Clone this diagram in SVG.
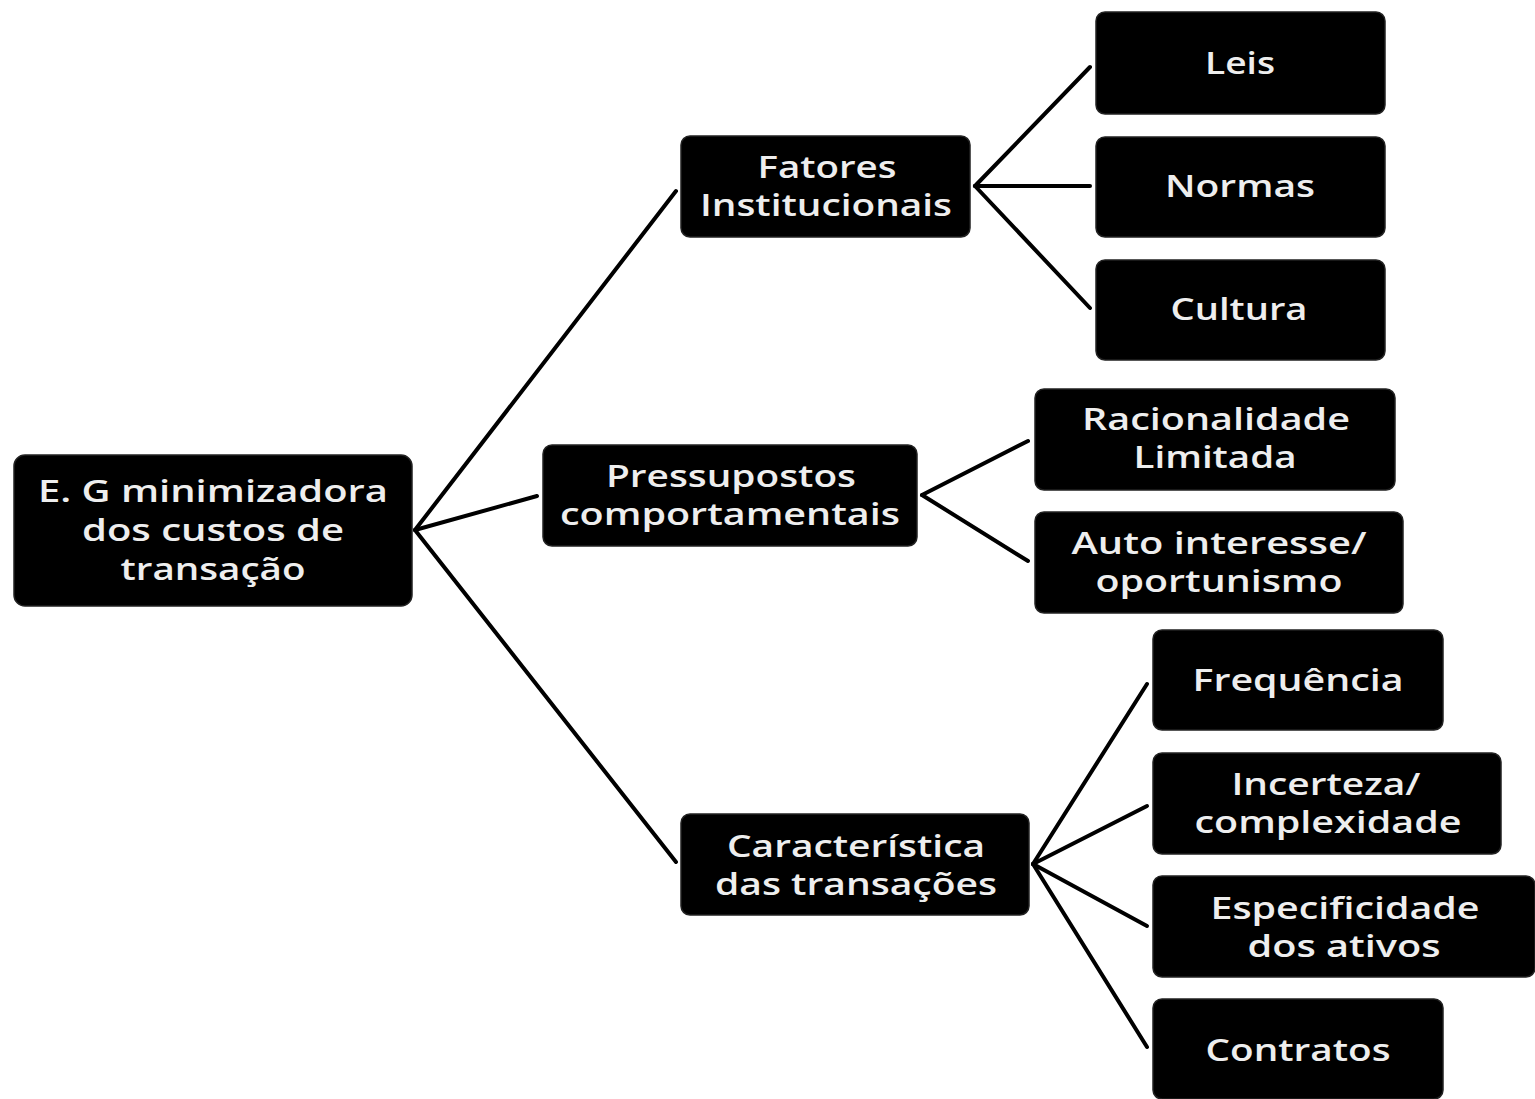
<svg xmlns="http://www.w3.org/2000/svg" width="1535" height="1099" viewBox="0 0 1535 1099">
<style>
.box{fill:#000;stroke:#222;stroke-width:1.5}
.t{font-family:"Open Sans","DejaVu Sans",sans-serif;font-size:30px;font-weight:600;fill:#eeeeee;text-anchor:middle}
.c line{stroke:#000;stroke-width:4;stroke-linecap:round}
</style>
<rect width="1535" height="1099" fill="#fff"/>
<g class="c" id="connectors">
<line x1="415" y1="530" x2="676" y2="191"/>
<line x1="415" y1="530" x2="537" y2="496"/>
<line x1="415" y1="530" x2="676" y2="862"/>
<line x1="975" y1="186" x2="1090" y2="67"/>
<line x1="975" y1="186" x2="1090" y2="186"/>
<line x1="975" y1="186" x2="1090" y2="308"/>
<line x1="922" y1="495" x2="1028" y2="441"/>
<line x1="922" y1="495" x2="1028" y2="561"/>
<line x1="1033" y1="864" x2="1147" y2="684"/>
<line x1="1033" y1="864" x2="1147" y2="806"/>
<line x1="1033" y1="864" x2="1147" y2="926"/>
<line x1="1033" y1="864" x2="1147" y2="1047"/>
</g>
<g id="root"><rect class="box" x="14" y="455" width="398" height="151" rx="11"/>
<text class="t" x="213" y="502" textLength="350" lengthAdjust="spacingAndGlyphs">E. G minimizadora</text>
<text class="t" x="213" y="541" textLength="262" lengthAdjust="spacingAndGlyphs">dos custos de</text>
<text class="t" x="213" y="580" textLength="185" lengthAdjust="spacingAndGlyphs">transação</text></g>
<g id="fatores"><rect class="box" x="681" y="136" width="289" height="101" rx="9"/>
<text class="t" x="827" y="178" textLength="139" lengthAdjust="spacingAndGlyphs">Fatores</text>
<text class="t" x="826" y="216" textLength="252" lengthAdjust="spacingAndGlyphs">Institucionais</text></g>
<g id="leis"><rect class="box" x="1096" y="12" width="289" height="102" rx="9"/>
<text class="t" x="1240" y="74" textLength="70" lengthAdjust="spacingAndGlyphs">Leis</text></g>
<g id="normas"><rect class="box" x="1096" y="137" width="289" height="100" rx="9"/>
<text class="t" x="1240" y="197" textLength="150" lengthAdjust="spacingAndGlyphs">Normas</text></g>
<g id="cultura"><rect class="box" x="1096" y="260" width="289" height="100" rx="9"/>
<text class="t" x="1239" y="320" textLength="137" lengthAdjust="spacingAndGlyphs">Cultura</text></g>
<g id="pressupostos"><rect class="box" x="543" y="445" width="374" height="101" rx="9"/>
<text class="t" x="731" y="487" textLength="250" lengthAdjust="spacingAndGlyphs">Pressupostos</text>
<text class="t" x="730" y="525" textLength="340" lengthAdjust="spacingAndGlyphs">comportamentais</text></g>
<g id="racionalidade"><rect class="box" x="1035" y="389" width="360" height="101" rx="9"/>
<text class="t" x="1216" y="430" textLength="268" lengthAdjust="spacingAndGlyphs">Racionalidade</text>
<text class="t" x="1215" y="468" textLength="163" lengthAdjust="spacingAndGlyphs">Limitada</text></g>
<g id="auto"><rect class="box" x="1035" y="512" width="368" height="101" rx="9"/>
<text class="t" x="1219" y="554" textLength="295" lengthAdjust="spacingAndGlyphs">Auto interesse/</text>
<text class="t" x="1219" y="592" textLength="247" lengthAdjust="spacingAndGlyphs">oportunismo</text></g>
<g id="caracteristica"><rect class="box" x="681" y="814" width="348" height="101" rx="9"/>
<text class="t" x="856" y="857" textLength="258" lengthAdjust="spacingAndGlyphs">Característica</text>
<text class="t" x="856" y="895" textLength="282" lengthAdjust="spacingAndGlyphs">das transações</text></g>
<g id="frequencia"><rect class="box" x="1153" y="630" width="290" height="100" rx="9"/>
<text class="t" x="1298" y="691" textLength="211" lengthAdjust="spacingAndGlyphs">Frequência</text></g>
<g id="incerteza"><rect class="box" x="1153" y="753" width="348" height="101" rx="9"/>
<text class="t" x="1326" y="795" textLength="189" lengthAdjust="spacingAndGlyphs">Incerteza/</text>
<text class="t" x="1328" y="833" textLength="267" lengthAdjust="spacingAndGlyphs">complexidade</text></g>
<g id="especificidade"><rect class="box" x="1153" y="876" width="382" height="101" rx="9"/>
<text class="t" x="1345" y="919" textLength="269" lengthAdjust="spacingAndGlyphs">Especificidade</text>
<text class="t" x="1344" y="957" textLength="193" lengthAdjust="spacingAndGlyphs">dos ativos</text></g>
<g id="contratos"><rect class="box" x="1153" y="999" width="290" height="100" rx="9"/>
<text class="t" x="1298" y="1061" textLength="185" lengthAdjust="spacingAndGlyphs">Contratos</text></g>
</svg>
